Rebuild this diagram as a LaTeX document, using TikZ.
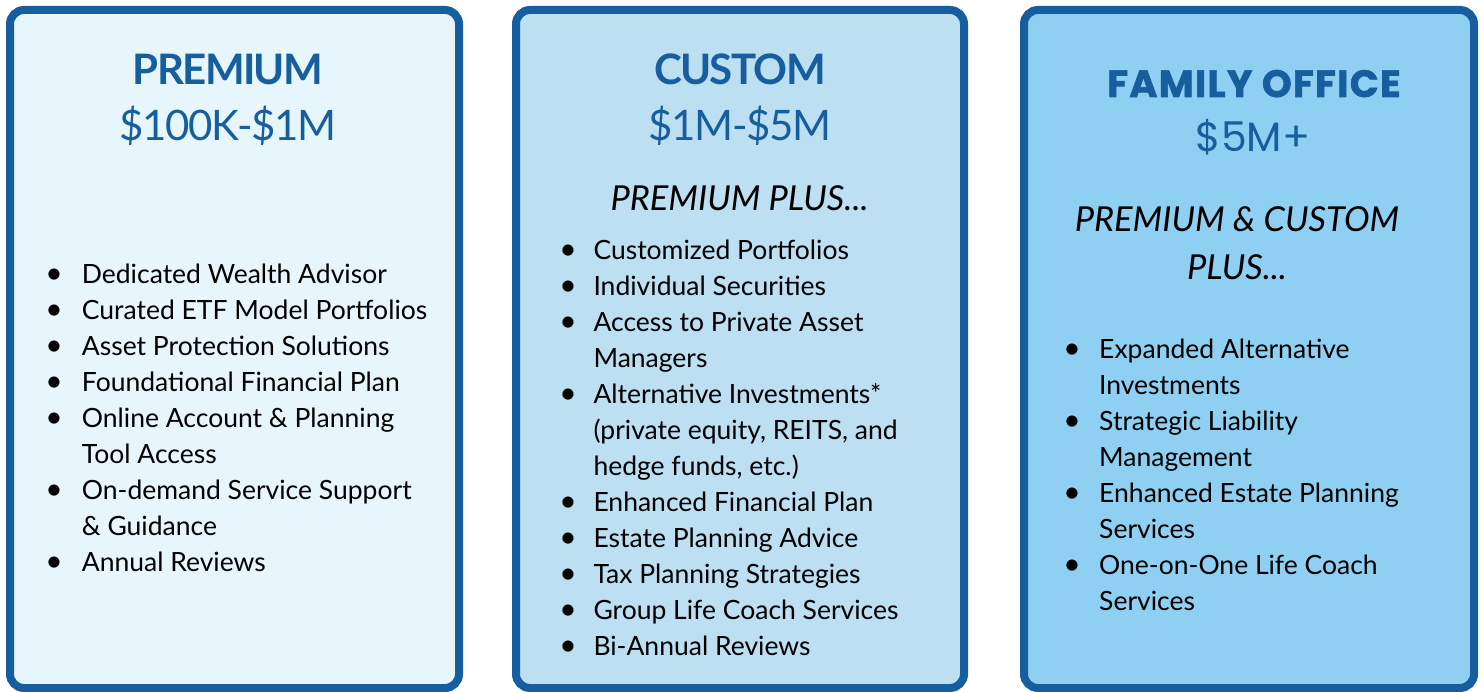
\documentclass[tikz,border=0pt]{standalone}
\usepackage{fontspec}
\setmainfont{Lato}
\newfontfamily\popp{Poppins}
\newfontfamily\latoT[LetterSpace=-4]{Lato}
\newfontfamily\latoP[LetterSpace=-3]{Lato}
\newfontfamily\poppW[LetterSpace=3.5,BoldFeatures={FakeBold=1.6}]{Poppins}
\definecolor{edge}{HTML}{175E9F}
\definecolor{fillA}{HTML}{E7F6FD}
\definecolor{fillB}{HTML}{BCDFF2}
\definecolor{fillC}{HTML}{8ECFF2}
\tikzset{
  panel/.style={draw=edge, line width=8pt, rounded corners=14pt},
  ttl/.style={anchor=base, inner sep=0pt, text=edge, font=\latoT\fontsize{42}{42}\selectfont\bfseries},
  price/.style={anchor=base, inner sep=0pt, text=edge, font=\latoP\fontsize{42}{42}\selectfont},
  plus/.style={anchor=base, inner sep=0pt, font=\fontsize{34.4}{34.4}\selectfont\itshape},
  item/.style={anchor=base west, inner sep=0pt, font=\fontsize{26.5}{26.5}\selectfont},
  dot/.style={anchor=base, inner sep=0pt, font=\fontsize{30}{30}\selectfont},
}
\begin{document}
\begin{tikzpicture}[x=1pt,y=-1pt]
\useasboundingbox (0,0) rectangle (1484,692);
\fill[white] (0,0) rectangle (1484,692);
% panels
\draw[panel, fill=fillA] (10,10) rectangle (459,688);
\draw[panel, fill=fillB] (516,10) rectangle (964,688);
\draw[panel, fill=fillC] (1024,10) rectangle (1474,688);
% Panel 1
\node[ttl] (t1) at (228,84.5) {PREMIUM};
\node[price] (pr1) at (228,140.7) {\$100K-\$1M};
\foreach \yy/\tx/\bb [count=\i] in {
  283.5/{Dedicated Wealth Advisor}/1,
  319.5/{Curated ETF Model Portfolios}/1,
  355.5/{Asset Protection Solutions}/1,
  391.5/{Foundational Financial Plan}/1,
  427.5/{Online Account \& Planning}/1,
  463.5/{Tool Access}/0,
  499.5/{On-demand Service Support}/1,
  535.5/{\& Guidance}/0,
  571.5/{Annual Reviews}/1}{
  \node[item] (a\i) at (81.7,\yy) {\tx};
  \ifnum\bb=1 \node[dot] (ab\i) at (54,\yy) {•};\fi
}
% Panel 2
\node[ttl] (t2) at (740,84.5) {CUSTOM};
\node[price] (pr2) at (740,140.7) {\$1M-\$5M};
\node[plus] (pl2) at (739.5,210.7) {PREMIUM PLUS...};
\foreach \yy/\tx/\bb [count=\i] in {
  259.5/{Customized Portfolios}/1,
  295.5/{Individual Securities}/1,
  331.5/{Access to Private Asset}/1,
  367.5/{Managers}/0,
  403.5/{Alternative Investments*}/1,
  439.5/{(private equity, REITS, and}/0,
  475.5/{hedge funds, etc.)}/0,
  511.5/{Enhanced Financial Plan}/1,
  547.5/{Estate Planning Advice}/1,
  583.5/{Tax Planning Strategies}/1,
  619.5/{Group Life Coach Services}/1,
  655.5/{Bi-Annual Reviews}/1}{
  \node[item] (c\i) at (593.3,\yy) {\tx};
  \ifnum\bb=1 \node[dot] (cb\i) at (568,\yy) {•};\fi
}
% Panel 3
\node[anchor=base, inner sep=0pt, text=edge, font=\poppW\fontsize{38}{38}\selectfont\bfseries] (t3) at (1254,97) {FAMILY OFFICE};
\node[anchor=base, inner sep=0pt, text=edge, font=\popp\fontsize{41}{41}\selectfont] (pr3) at (1253,152) {\$5M+};
\node[plus] (pl3a) at (1237,232) {PREMIUM \& CUSTOM};
\node[plus] (pl3b) at (1237,280) {PLUS...};
\foreach \yy/\tx/\bb [count=\i] in {
  358.5/{Expanded Alternative}/1,
  394.5/{Investments}/0,
  430.5/{Strategic Liability}/1,
  466.5/{Management}/0,
  502.5/{Enhanced Estate Planning}/1,
  538.5/{Services}/0,
  574.5/{One-on-One Life Coach}/1,
  610.5/{Services}/0}{
  \node[item] (f\i) at (1099,\yy) {\tx};
  \ifnum\bb=1 \node[dot] (fb\i) at (1072,\yy) {•};\fi
}
\end{tikzpicture}
\end{document}
